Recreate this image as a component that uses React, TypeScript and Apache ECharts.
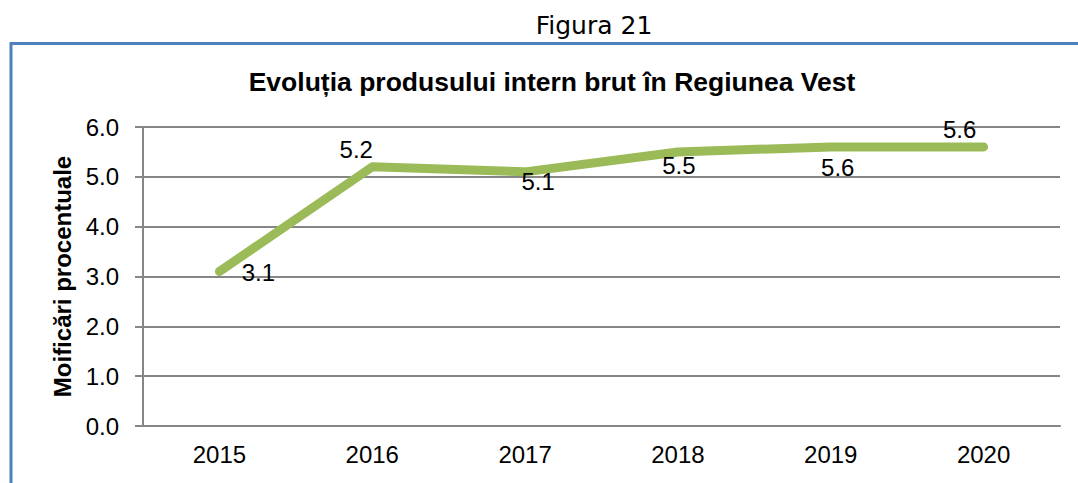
import React, { useEffect, useRef } from "react";
import * as echarts from "echarts";

const categories = ["2015", "2016", "2017", "2018", "2019", "2020"];
const values = [3.1, 5.2, 5.1, 5.5, 5.6, 5.6];
const yTicks = { min: 0, max: 6, interval: 1 };
const figureLabel = "Figura 21";
const chartTitle = "Evoluția produsului intern brut în Regiunea Vest";
const yAxisTitle = "Moificări procentuale";

// label offsets from each point (style only)
const labelOffsets: [number, number][] = [
  [39, 1],
  [-16, -17],
  [13, 10],
  [1, 14],
  [7, 21],
  [-24, -17],
];

export default function App() {
  const ref = useRef<HTMLDivElement>(null);
  useEffect(() => {
    document.body.style.margin = "0";
    const chart = echarts.init(ref.current!, null, { renderer: "svg" });
    const labelFont = "'Liberation Sans', Arial, sans-serif";
    chart.setOption({
      animation: false,
      backgroundColor: "#ffffff",
      graphic: [
        {
          type: "rect",
          shape: { x: 11, y: 43.5, width: 1200, height: 600 },
          style: { fill: "none", stroke: "#4F81BD", lineWidth: 3 },
          z: 0,
        },
        {
          type: "text",
          x: 594,
          y: 25,
          style: {
            text: figureLabel,
            font: "25px 'DejaVu Sans', Verdana, sans-serif",
            fill: "#000",
            align: "center",
            verticalAlign: "middle",
          },
        },
        {
          type: "text",
          x: 552,
          y: 82,
          style: {
            text: chartTitle,
            font: "bold 26.5px 'Liberation Sans', Arial, sans-serif",
            fill: "#000",
            align: "center",
            verticalAlign: "middle",
          },
        },
      ],
      grid: { left: 143, right: 18, top: 127, bottom: 57, containLabel: false },
      xAxis: {
        type: "category",
        data: categories,
        boundaryGap: true,
        axisLine: { show: true, lineStyle: { color: "#868686", width: 2 } },
        axisTick: { show: false },
        axisLabel: {
          color: "#000",
          fontSize: 24,
          fontFamily: labelFont,
          margin: 16,
        },
      },
      yAxis: {
        type: "value",
        min: yTicks.min,
        max: yTicks.max,
        interval: yTicks.interval,
        name: yAxisTitle,
        nameLocation: "middle",
        nameGap: 68,
        nameRotate: 90,
        nameTextStyle: {
          color: "#000",
          fontSize: 24,
          fontWeight: "bold",
          fontFamily: "'Liberation Sans', Arial, sans-serif",
        },
        axisLine: { show: true, lineStyle: { color: "#868686", width: 2 } },
        axisTick: { show: true, length: 8, lineStyle: { color: "#868686", width: 2 } },
        splitLine: { show: true, lineStyle: { color: "#868686", width: 2 } },
        axisLabel: {
          color: "#000",
          fontSize: 24,
          fontFamily: labelFont,
          margin: 24,
          formatter: (v: number) => v.toFixed(1),
        },
      },
      series: [
        {
          type: "line",
          data: values.map((v, i) => ({
            value: v,
            label: { offset: labelOffsets[i] },
          })),
          symbol: "circle",
          symbolSize: 1,
          showSymbol: true,
          itemStyle: { color: "rgba(0,0,0,0)" },
          lineStyle: { color: "#9BBB59", width: 9, cap: "round", join: "round" },
          label: {
            show: true,
            position: "inside",
            color: "#000",
            fontSize: 24,
            fontFamily: labelFont,
            formatter: (p: any) => Number(p.value).toFixed(1),
          },
          z: 3,
        },
      ],
    });
    return () => chart.dispose();
  }, []);
  return <div ref={ref} style={{ width: 1078, height: 483 }} />;
}
